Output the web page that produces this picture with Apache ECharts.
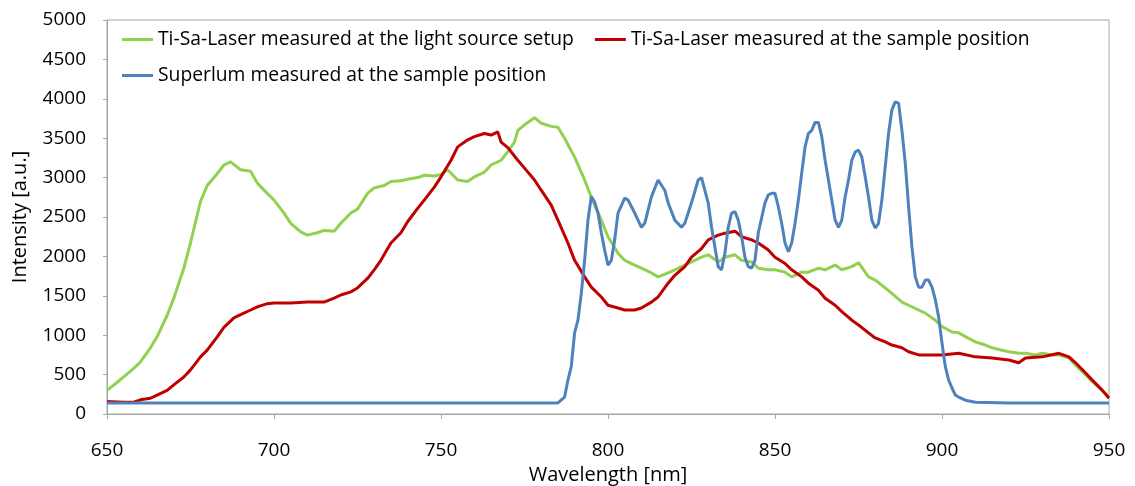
<!DOCTYPE html>
<html>
<head>
<meta charset="utf-8">
<script src="https://cdn.jsdelivr.net/npm/echarts@6/dist/echarts.min.js"></script>
<style>html,body{margin:0;padding:0;background:#fff;}#c{width:1135px;height:486px;}</style>
</head>
<body>
<div id="c"></div>
<script>
const seriesNames = [
  'Ti-Sa-Laser measured at the light source setup',
  'Ti-Sa-Laser measured at the sample position',
  'Superlum measured at the sample position'
];
const xTicks = [650, 700, 750, 800, 850, 900, 950];
const yTicks = [0, 500, 1000, 1500, 2000, 2500, 3000, 3500, 4000, 4500, 5000];

const greenX = [650,653,655,658,660,663,665,668,670,673,675,678,680,683,685,687,690,693,695,698,700,703,705,708,710,713,715,718,720,723,725,728,730,733,735,738,740,743,745,748,750,752,755,758,760,763,765,768,770,772,773,775,778,780,783,785,787,790,793,795,798,800,803,805,808,810,813,815,818,820,823,825,828,830,833,835,838,840,843,845,848,850,853,855,858,860,863,865,868,870,873,875,878,880,883,885,888,890,893,895,898,900,903,905,908,910,913,915,918,920,923,925,928,930,933,935,938,940,943,945,948,950];
const greenY = [300,400,470,580,660,840,980,1250,1470,1850,2170,2700,2900,3050,3160,3200,3100,3080,2930,2800,2715,2550,2420,2310,2270,2300,2330,2320,2420,2550,2600,2800,2870,2900,2950,2960,2980,3000,3030,3020,3040,3100,2970,2950,3010,3070,3160,3220,3330,3450,3600,3670,3760,3690,3650,3640,3500,3260,2970,2750,2460,2250,2040,1950,1890,1850,1790,1740,1790,1830,1890,1930,1990,2020,1930,1990,2020,1950,1930,1850,1830,1830,1800,1740,1800,1800,1850,1830,1890,1830,1870,1920,1740,1700,1600,1530,1420,1380,1320,1280,1190,1110,1040,1030,960,915,875,840,810,790,770,770,750,770,750,750,710,620,495,410,300,215];

const redX = [650,655,658,660,663,665,668,670,673,675,678,680,683,685,688,690,693,695,698,700,705,710,715,718,720,723,725,728,730,732,735,738,740,743,745,748,750,753,755,758,760,763,765,767,768,770,773,775,778,780,783,785,788,790,793,795,798,800,803,805,808,810,813,815,818,820,823,825,828,830,833,835,838,840,843,845,848,850,853,855,858,860,863,865,868,870,873,875,878,880,883,885,888,890,893,895,900,905,910,915,920,923,925,930,935,938,940,943,945,948,950];
const redY = [160,150,150,180,200,240,300,370,470,560,725,810,980,1100,1220,1260,1320,1360,1400,1410,1410,1420,1420,1470,1510,1550,1600,1720,1830,1950,2170,2300,2440,2610,2715,2880,3010,3220,3390,3480,3520,3560,3540,3580,3450,3380,3220,3120,2970,2840,2650,2460,2170,1950,1740,1610,1485,1380,1345,1320,1320,1345,1420,1485,1660,1760,1870,1990,2100,2210,2270,2295,2320,2250,2210,2170,2080,1990,1910,1830,1740,1660,1570,1470,1380,1300,1190,1130,1030,965,915,875,840,790,750,750,750,770,725,710,685,650,710,725,770,725,650,520,430,300,200];

const blueX = [650,680,700,720,740,760,780,785,787,788,789,790,791,792,793,794,795,796,797,798,799,800,801,802,803,805,806,808,810,811,813,815,817,818,820,822,823,825,827,828,830,831,832,833,834,835,836,837,838,839,840,841,842,843,844,845,847,848,849,850,851,852,853,854,855,856,857,858,859,860,861,862,863,864,865,866,867,868,869,870,871,872,873,874,875,876,877,878,879,880,881,882,883,884,885,886,887,888,889,890,891,892,893,894,895,896,897,898,899,900,901,902,903,904,905,907,910,920,930,940,950];
const blueY = [140,140,140,140,140,140,140,140,215,430,600,1030,1190,1530,1950,2460,2760,2690,2550,2300,2080,1890,1950,2210,2550,2740,2715,2550,2370,2420,2755,2970,2840,2680,2460,2370,2420,2680,2970,3000,2680,2370,2120,1870,1830,2040,2370,2550,2570,2460,2250,1990,1870,1850,1950,2300,2680,2780,2800,2800,2630,2420,2170,2060,2170,2420,2715,3060,3390,3560,3600,3700,3700,3520,3220,2970,2715,2460,2370,2460,2755,2970,3220,3325,3350,3260,3010,2755,2460,2360,2420,2715,3135,3560,3860,3960,3945,3600,3185,2630,2120,1740,1610,1610,1700,1700,1610,1450,1230,900,600,430,330,240,215,175,150,140,140,140,140];

function pairs(xs, ys) { return xs.map((x, i) => [x, ys[i]]); }

const colors = ['#92D050', '#C00000', '#4F81BD'];
const FONT = 'Open Sans';

const chart = echarts.init(document.getElementById('c'), null, {renderer: 'canvas'});
chart.setOption({
  animation: false,
  backgroundColor: '#fff',
  color: colors,
  textStyle: {fontFamily: FONT},
  grid: {left: 107, right: 26, top: 20, bottom: 72, show: true, borderColor: '#a6a6a6', borderWidth: 1,
         containLabel: false, outerBoundsMode: 'none'},
  legend: [
    {data: [seriesNames[0], seriesNames[1]], left: 117, top: 25, itemWidth: 31, itemHeight: 3, itemGap: 21, icon: 'rect',
     textStyle: {fontFamily: FONT, fontSize: 19.3, color: '#000'}},
    {data: [seriesNames[2]], left: 117, top: 61, itemWidth: 31, itemHeight: 3, icon: 'rect',
     textStyle: {fontFamily: FONT, fontSize: 19.3, color: '#000'}}
  ],
  xAxis: {
    type: 'value', min: 650, max: 950, interval: 50,
    name: 'Wavelength [nm]', nameLocation: 'middle', nameGap: 42,
    nameTextStyle: {fontFamily: FONT, fontSize: 20, color: '#000'},
    axisLine: {lineStyle: {color: '#a6a6a6'}},
    axisTick: {show: true, length: 5, lineStyle: {color: '#a6a6a6'}},
    axisLabel: {margin: 27, fontFamily: FONT, fontSize: 19, color: '#000',
      formatter: v => xTicks.includes(v) ? String(v) : ''},
    splitLine: {show: false}
  },
  yAxis: {
    type: 'value', min: 0, max: 5000, interval: 500,
    name: 'Intensity [a.u.]', nameLocation: 'middle', nameGap: 77, nameRotate: 90,
    nameTextStyle: {fontFamily: FONT, fontSize: 20, color: '#000'},
    axisLine: {show: true, lineStyle: {color: '#a6a6a6'}},
    axisTick: {show: true, length: 4, lineStyle: {color: '#a6a6a6'}},
    axisLabel: {margin: 21, fontFamily: FONT, fontSize: 19, color: '#000',
      formatter: v => yTicks.includes(v) ? String(v) : ''},
    splitLine: {show: false}
  },
  series: [
    {name: seriesNames[0], type: 'line', data: pairs(greenX, greenY), showSymbol: false, lineStyle: {width: 3, color: colors[0]}, z: 2},
    {name: seriesNames[1], type: 'line', data: pairs(redX, redY), showSymbol: false, lineStyle: {width: 3, color: colors[1]}, z: 3},
    {name: seriesNames[2], type: 'line', data: pairs(blueX, blueY), showSymbol: false, lineStyle: {width: 3, color: colors[2]}, z: 4}
  ]
});
</script>
</body>
</html>
